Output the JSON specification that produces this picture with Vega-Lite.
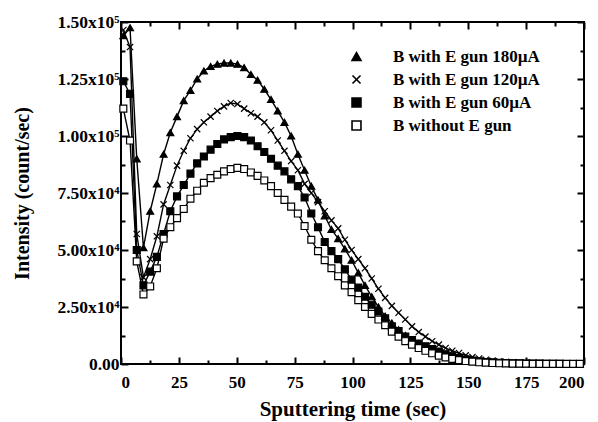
{
  "$schema": "https://vega.github.io/schema/vega-lite/v6.json",
  "width": 463,
  "height": 342,
  "autosize": {"type": "none"},
  "padding": {"left": 121, "top": 22, "right": 14, "bottom": 58},
  "background": "white",
  "config": {
    "view": {"stroke": "black", "strokeWidth": 2},
    "axis": {
      "labelFont": "Liberation Serif", "labelFontWeight": "bold", "labelFontSize": 17, "labelColor": "black",
      "titleFont": "Liberation Serif", "titleFontWeight": "bold", "titleFontSize": 21, "titleColor": "black",
      "tickColor": "black", "tickWidth": 2, "grid": false, "domain": false
    }
  },
  "data": {"values": [
    {"t":1,"a":144000,"b":146500,"c":124000,"d":112000},
    {"t":3.9,"a":147500,"b":139000,"c":118500,"d":98000},
    {"t":6.8,"a":90000,"b":57000,"c":50000,"d":45000},
    {"t":9.7,"a":51000,"b":38000,"c":34500,"d":30500},
    {"t":12.6,"a":67000,"b":46000,"c":40500,"d":34000},
    {"t":15.5,"a":79000,"b":56000,"c":47000,"d":42000},
    {"t":18.4,"a":92000,"b":70000,"c":57000,"d":55000},
    {"t":21.3,"a":101500,"b":78500,"c":67000,"d":60000},
    {"t":24.2,"a":108500,"b":87000,"c":73500,"d":64000},
    {"t":27.1,"a":115500,"b":93500,"c":78500,"d":68000},
    {"t":30,"a":120000,"b":99000,"c":83500,"d":72500},
    {"t":32.9,"a":125000,"b":103000,"c":88000,"d":76000},
    {"t":35.8,"a":128500,"b":106000,"c":91000,"d":79500},
    {"t":38.7,"a":130500,"b":108500,"c":94000,"d":81500},
    {"t":41.6,"a":131500,"b":111000,"c":96500,"d":83000},
    {"t":44.5,"a":132000,"b":113000,"c":98500,"d":84500},
    {"t":47.4,"a":132000,"b":114500,"c":99500,"d":85500},
    {"t":50.3,"a":131500,"b":114000,"c":100000,"d":86000},
    {"t":53.2,"a":130000,"b":112000,"c":99500,"d":85500},
    {"t":56.1,"a":127000,"b":110000,"c":98000,"d":84000},
    {"t":59,"a":124500,"b":108500,"c":95500,"d":82500},
    {"t":61.9,"a":120500,"b":106000,"c":93000,"d":80500},
    {"t":64.8,"a":116000,"b":102500,"c":90000,"d":78000},
    {"t":67.7,"a":111000,"b":98000,"c":87000,"d":75000},
    {"t":70.6,"a":106000,"b":93500,"c":84500,"d":72000},
    {"t":73.5,"a":100000,"b":89000,"c":81000,"d":69000},
    {"t":76.4,"a":92000,"b":85000,"c":78000,"d":66000},
    {"t":79.3,"a":85000,"b":79000,"c":73000,"d":60500},
    {"t":82.2,"a":78000,"b":75000,"c":66000,"d":54500},
    {"t":85.1,"a":72000,"b":71000,"c":60000,"d":49500},
    {"t":88,"a":65000,"b":67000,"c":53500,"d":45500},
    {"t":90.9,"a":59000,"b":63000,"c":49500,"d":42000},
    {"t":93.8,"a":55000,"b":59500,"c":46000,"d":38500},
    {"t":96.7,"a":50500,"b":54500,"c":41500,"d":34500},
    {"t":99.6,"a":45500,"b":50000,"c":37000,"d":31500},
    {"t":102.5,"a":40000,"b":46000,"c":33500,"d":28000},
    {"t":105.4,"a":34500,"b":42000,"c":29500,"d":25000},
    {"t":108.3,"a":29500,"b":37500,"c":26000,"d":22000},
    {"t":111.2,"a":25000,"b":33000,"c":23000,"d":19500},
    {"t":114.1,"a":21000,"b":29000,"c":20000,"d":17000},
    {"t":117,"a":18000,"b":25500,"c":16500,"d":14200},
    {"t":119.9,"a":15000,"b":22500,"c":14500,"d":12000},
    {"t":122.8,"a":12500,"b":19500,"c":12000,"d":10000},
    {"t":125.7,"a":10500,"b":16500,"c":10500,"d":8500},
    {"t":128.6,"a":8800,"b":14000,"c":9000,"d":7000},
    {"t":131.5,"a":7400,"b":12000,"c":7800,"d":5800},
    {"t":134.4,"a":6200,"b":10000,"c":6600,"d":4700},
    {"t":137.3,"a":5200,"b":8500,"c":5400,"d":3700},
    {"t":140.2,"a":4300,"b":7000,"c":4300,"d":2900},
    {"t":143.1,"a":3400,"b":5800,"c":3400,"d":2200},
    {"t":146,"a":2600,"b":4800,"c":2600,"d":1700},
    {"t":148.9,"a":2000,"b":3800,"c":2000,"d":1300},
    {"t":151.8,"a":1500,"b":3000,"c":1500,"d":1000},
    {"t":154.7,"a":1100,"b":2400,"c":1150,"d":750},
    {"t":157.6,"a":800,"b":1900,"c":900,"d":560},
    {"t":160.5,"a":600,"b":1500,"c":700,"d":420},
    {"t":163.4,"a":450,"b":1200,"c":550,"d":320},
    {"t":166.3,"a":350,"b":950,"c":430,"d":240},
    {"t":169.2,"a":270,"b":750,"c":340,"d":180},
    {"t":172.1,"a":210,"b":600,"c":270,"d":140},
    {"t":175,"a":170,"b":480,"c":210,"d":110},
    {"t":177.9,"a":140,"b":390,"c":170,"d":85},
    {"t":180.8,"a":110,"b":320,"c":140,"d":65},
    {"t":183.7,"a":90,"b":260,"c":110,"d":50},
    {"t":186.6,"a":80,"b":210,"c":90,"d":40},
    {"t":189.5,"a":70,"b":170,"c":75,"d":30},
    {"t":192.4,"a":60,"b":140,"c":60,"d":25},
    {"t":195.3,"a":50,"b":110,"c":50,"d":20},
    {"t":198.2,"a":40,"b":90,"c":40,"d":15}
  ]},
  "transform": [{"fold": ["a", "b", "c", "d"], "as": ["s", "v"]}],
  "resolve": {"axis": {"x": "independent", "y": "independent"}},
  "layer": [
    {
      "mark": {"type": "line", "color": "black", "strokeWidth": 1.4},
      "encoding": {
        "detail": {"field": "s"},
        "x": {"field": "t", "type": "quantitative", "scale": {"domain": [0, 200], "nice": false},
          "axis": {"orient": "bottom", "values": [0,25,50,75,100,125,150,175,200], "tickSize": -7, "labelPadding": 17, "title": "Sputtering time (sec)", "titlePadding": 8}},
        "y": {"field": "v", "type": "quantitative", "scale": {"domain": [0, 150000], "nice": false},
          "axis": {"orient": "left", "values": [0,25000,50000,75000,100000,125000,150000], "tickSize": -7, "labelPadding": 9, "title": "Intensity (count/sec)", "titlePadding": 24, "titleFontSize": 20, "labelFontSize": 17.5,
            "labelExpr": "datum.value == 0 ? '0.00' : (datum.value >= 100000 ? format(datum.value/100000, '.2f') + 'x10⁵' : format(datum.value/10000, '.2f') + 'x10⁴')"}}
      }
    },
    {
      "mark": {"type": "point", "filled": true, "stroke": "black", "strokeWidth": 1.2, "opacity": 1, "size": 48},
      "encoding": {
        "x": {"field": "t", "type": "quantitative", "axis": null},
        "y": {"field": "v", "type": "quantitative", "axis": null},
        "shape": {"field": "s", "type": "nominal",
          "scale": {"domain": ["a", "b", "c", "d"], "range": ["triangle-up", "M-0.9,-0.9L0.9,0.9M-0.9,0.9L0.9,-0.9", "square", "square"]},
          "legend": {"orient": "none", "legendX": 227, "legendY": 26, "title": null, "labelFont": "Liberation Serif", "labelFontWeight": "bold", "labelFontSize": 17, "labelColor": "black", "labelOffset": 28, "symbolSize": 80, "symbolStrokeWidth": 1.6, "rowPadding": 5,
            "labelExpr": "{'a': 'B with E gun 180µA', 'b': 'B with E gun 120µA', 'c': 'B with E gun 60µA', 'd': 'B without E gun'}[datum.label]"}},
        "fill": {"field": "s", "type": "nominal",
          "scale": {"domain": ["a", "b", "c", "d"], "range": ["black", "black", "black", "white"]}}
      }
    },
    {
      "mark": {"type": "point", "opacity": 0},
      "encoding": {
        "x": {"field": "t", "type": "quantitative",
          "axis": {"orient": "bottom", "values": [12.5,37.5,62.5,87.5,112.5,137.5,162.5,187.5], "tickSize": -4, "labels": false, "title": null}},
        "y": {"field": "v", "type": "quantitative",
          "axis": {"orient": "left", "values": [12500,37500,62500,87500,112500,137500], "tickSize": -4, "labels": false, "title": null}}
      }
    },
    {
      "mark": {"type": "point", "opacity": 0},
      "encoding": {
        "x": {"field": "t", "type": "quantitative",
          "axis": {"orient": "top", "values": [0,25,50,75,100,125,150,175,200], "tickSize": -7, "labels": false, "title": null}},
        "y": {"field": "v", "type": "quantitative",
          "axis": {"orient": "right", "values": [0,25000,50000,75000,100000,125000,150000], "tickSize": -7, "labels": false, "title": null}}
      }
    },
    {
      "mark": {"type": "point", "opacity": 0},
      "encoding": {
        "x": {"field": "t", "type": "quantitative",
          "axis": {"orient": "top", "values": [12.5,37.5,62.5,87.5,112.5,137.5,162.5,187.5], "tickSize": -4, "labels": false, "title": null}},
        "y": {"field": "v", "type": "quantitative",
          "axis": {"orient": "right", "values": [12500,37500,62500,87500,112500,137500], "tickSize": -4, "labels": false, "title": null}}
      }
    }
  ]
}
